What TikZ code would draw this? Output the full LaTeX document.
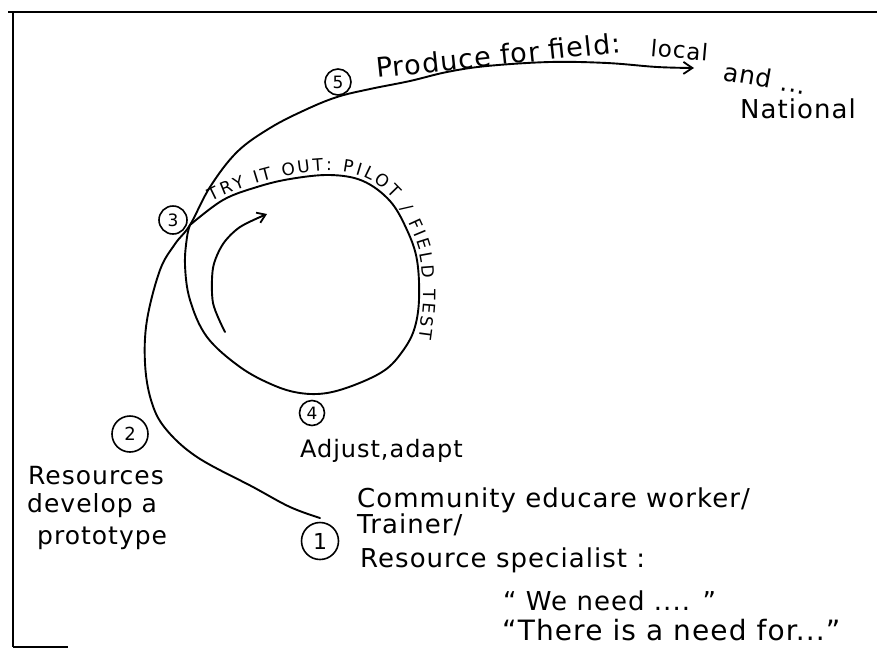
\documentclass[tikz,border=0pt]{standalone}
\usepackage{fontspec}
\setmainfont{DejaVu Sans}
\newfontfamily\hand{DejaVu Sans}[LetterSpace=4]
\usetikzlibrary{decorations.text,arrows.meta}
\begin{document}
\begin{tikzpicture}[x=1pt,y=-1pt,
  stroke/.style={line width=1.9pt, line cap=round, line join=round},
  num/.style={draw, circle, line width=1.6pt, inner sep=0pt},
  lbl/.style={anchor=base west, inner sep=0pt, font=\hand\fontsize{#1}{#1}\selectfont},
  lbl/.default=26,
  barb/.style={-{Straight Barb[length=9pt,width=12pt,line width=1.8pt]}},
]
\useasboundingbox (0,0) rectangle (877,649);
% frame
\draw[line width=2.2pt] (8,12) coordinate (ftl) -- (877,12) coordinate (ftr);
\draw[line width=2.2pt] (13,12) coordinate (fl1) -- (13,647) coordinate (fl2);
\draw[line width=1.8pt] (fl2) -- (68,647) coordinate (fb);

% numbered circles
\node[num, minimum size=37pt, font=\fontsize{22}{22}\selectfont] (c1) at (320,541) {1};
\node[num, minimum size=36pt, font=\fontsize{18}{18}\selectfont] (c2) at (130,434) {2};
\node[num, minimum size=28pt, font=\fontsize{17}{17}\selectfont] (c3) at (173,220) {3};
\node[num, minimum size=25pt, font=\fontsize{17}{17}\selectfont] (c4) at (312,413) {4};
\node[num, minimum size=26pt, font=\fontsize{17}{17}\selectfont] (c5) at (338,82) {5};

\coordinate (s1) at (320,518);
\coordinate (p3) at (190,225);
\coordinate (e5) at (694,68);

% main path 1 -> 2 -> 3 -> 5 -> out
\draw[stroke, barb] plot[smooth, tension=0.6] coordinates {(s1) (290,507) (253,487) (197,457) (165,428) (151,400) (145,363) (147,320) (160,270) (175,244) (p3) (210,187) (237,152) (270,128) (305,110) (337,97) (370,89) (410,81) (447,72) (487,66) (550,62) (607,63) (657,67) (e5)};

% loop
\draw[stroke] plot[smooth, tension=0.6] coordinates {(p3) (223,200) (257,187) (290,179) (330,175) (363,181) (390,201) (407,230) (417,260) (419,300) (414,330) (402,352) (385,370) (357,384) (327,393) (300,393) (273,385) (240,367) (207,337) (190,300) (185,265) (187,237) (p3)};

% inner arrow
\coordinate (a0) at (225,332);
\coordinate (a1) at (267,214);
\draw[stroke, -{Straight Barb[length=8pt,width=11pt,line width=1.8pt]}] plot[smooth] coordinates {(a0) (213,303) (213,268) (223,244) (240,227) (a1)};

% text along the loop
\path[decorate, decoration={text along path, raise=4pt, text align={fit to path},
  text={|\fontsize{17}{17}\selectfont|TRY IT OUT: PILOT / FIELD TEST}}]
  plot[smooth, tension=0.6] coordinates {(213,205) (223,200) (257,187) (290,179) (330,175) (363,181) (390,201) (407,230) (417,260) (419,300) (415,338)};

% top labels
\node[lbl=27, rotate=6] (t5) at (377,78) {Produce for field:};
\node[lbl=23, rotate=-5] (tloc) at (650,56) {local};
\node[lbl=25, rotate=-10] (tand) at (722,80) {and ...};
\node[lbl=26] (tnat) at (740,118) {National};

% left labels
\node[lbl=25] (r1) at (28,484) {Resources};
\node[lbl=25] (r2) at (27,512) {develop a};
\node[lbl=25] (r3) at (37,544) {prototype};

% adjust
\node[lbl=24] (t4) at (300,457) {Adjust,adapt};

% right block
\node[lbl=26] (k1) at (357,507) {Community educare worker/};
\node[lbl=26] (k2) at (357,533) {Trainer/};
\node[lbl=26] (k3) at (360,567) {Resource specialist :};
\node[lbl=26] (k4) at (503,610) {“ We need .... ”};
\node[lbl=28] (k5) at (502,640) {“There is a need for...”};
\end{tikzpicture}
\end{document}
